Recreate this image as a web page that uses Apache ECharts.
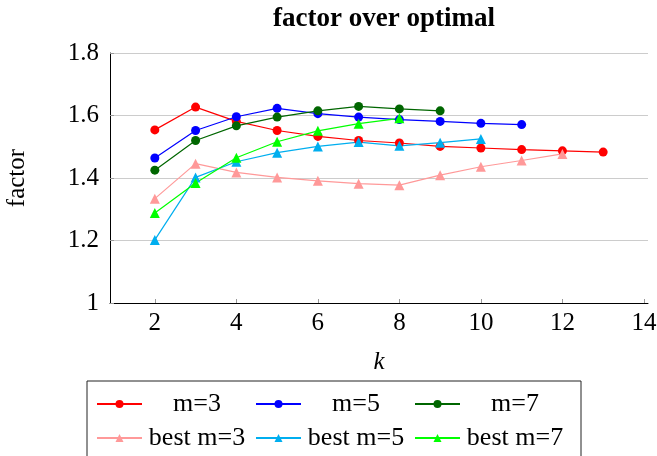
<!DOCTYPE html>
<html>
<head>
<meta charset="utf-8">
<script src="https://cdn.jsdelivr.net/npm/echarts@6/dist/echarts.min.js"></script>
<style>html,body{margin:0;padding:0;background:#fff;}#c{width:657px;height:456px;}</style>
</head>
<body>
<div id="c"></div>
<script>
var kTicks = [2, 4, 6, 8, 10, 12, 14];
var kM3 = [2, 3, 4, 5, 6, 7, 8, 9, 10, 11, 12, 13];
var m3 = [1.554, 1.627, 1.581, 1.552, 1.533, 1.520, 1.512, 1.501, 1.496, 1.491, 1.487, 1.483];
var kM5 = [2, 3, 4, 5, 6, 7, 8, 9, 10, 11];
var m5 = [1.464, 1.552, 1.596, 1.623, 1.606, 1.595, 1.587, 1.581, 1.575, 1.571];
var kM7 = [2, 3, 4, 5, 6, 7, 8, 9];
var m7 = [1.425, 1.520, 1.567, 1.595, 1.615, 1.629, 1.621, 1.615];
var kB3 = [2, 3, 4, 5, 6, 7, 8, 9, 10, 11, 12];
var best3 = [1.334, 1.446, 1.418, 1.402, 1.391, 1.382, 1.377, 1.409, 1.436, 1.456, 1.477];
var kB5 = [2, 3, 4, 5, 6, 7, 8, 9, 10];
var best5 = [1.202, 1.402, 1.452, 1.481, 1.501, 1.515, 1.503, 1.513, 1.525];
var kB7 = [2, 3, 4, 5, 6, 7, 8];
var best7 = [1.288, 1.384, 1.465, 1.516, 1.551, 1.574, 1.591];

function zip(xs, ys) { return xs.map(function (x, i) { return [x, ys[i]]; }); }
function mk(name, xs, ys, color, sym, size) {
  return {
    name: name, type: 'line', data: zip(xs, ys),
    symbol: sym, symbolSize: size, showSymbol: true,
    lineStyle: { color: color, width: 1.2 },
    itemStyle: { color: color },
    emphasis: { disabled: true }
  };
}
var FONT = '"Liberation Serif", "DejaVu Serif", serif';
var chart = echarts.init(document.getElementById('c'));
chart.setOption({
  animation: false,
  backgroundColor: '#fff',
  textStyle: { fontFamily: FONT },
  title: {
    text: 'factor over optimal', left: 379, top: 1, textAlign: 'center',
    textStyle: { fontFamily: FONT, fontWeight: 'bold', fontSize: 27, color: '#000' }
  },
  grid: { left: 110, right: 9, top: 53, bottom: 153, outerBoundsMode: 'none', containLabel: false },
  xAxis: {
    type: 'value', min: 0.9, max: 14.1,
    name: 'k', nameLocation: 'middle', nameGap: 47,
    nameTextStyle: { fontFamily: FONT, fontStyle: 'italic', fontSize: 25, color: '#000' },
    axisLine: { show: true, lineStyle: { color: '#000', width: 1 } },
    axisTick: { show: true, inside: true, length: 4, lineStyle: { color: '#999' }, customValues: kTicks },
    axisLabel: { fontFamily: FONT, fontSize: 25, color: '#000', margin: 8, customValues: kTicks },
    splitLine: { show: false }
  },
  yAxis: {
    type: 'value', min: 1, max: 1.8, interval: 0.2,
    name: 'factor', nameLocation: 'middle', nameGap: 80, nameRotate: 90,
    nameTextStyle: { fontFamily: FONT, fontSize: 25, color: '#000' },
    axisLine: { show: true, lineStyle: { color: '#000', width: 1 } },
    axisTick: { show: true, inside: true, length: 4, lineStyle: { color: '#999' } },
    axisLabel: { fontFamily: FONT, fontSize: 25, color: '#000', margin: 11 },
    splitLine: { show: true, lineStyle: { color: '#ccc', width: 1 } }
  },
  legend: {
    left: 87, top: 381, width: 470,
    padding: [10, 16, 20, 9],
    itemWidth: 45, itemHeight: 10, itemGap: 8,
    borderColor: '#222', borderWidth: 1,
    selectedMode: false,
    data: ['m=3', 'm=5', 'm=7', 'best m=3', 'best m=5', 'best m=7'],
    formatter: function (n) { return '{a|' + n + '}'; },
    textStyle: {
      fontFamily: FONT, fontSize: 26, color: '#000',
      rich: { a: { width: 100, align: 'center', fontFamily: FONT, fontSize: 26, lineHeight: 24 } }
    }
  },
  series: [
    mk('m=3', kM3, m3, '#ff0000', 'circle', 9),
    mk('m=5', kM5, m5, '#0000ff', 'circle', 9),
    mk('m=7', kM7, m7, '#006600', 'circle', 9),
    mk('best m=3', kB3, best3, '#ff9999', 'triangle', 10),
    mk('best m=5', kB5, best5, '#00aeef', 'triangle', 10),
    mk('best m=7', kB7, best7, '#00ff00', 'triangle', 10)
  ]
});
</script>
</body>
</html>
